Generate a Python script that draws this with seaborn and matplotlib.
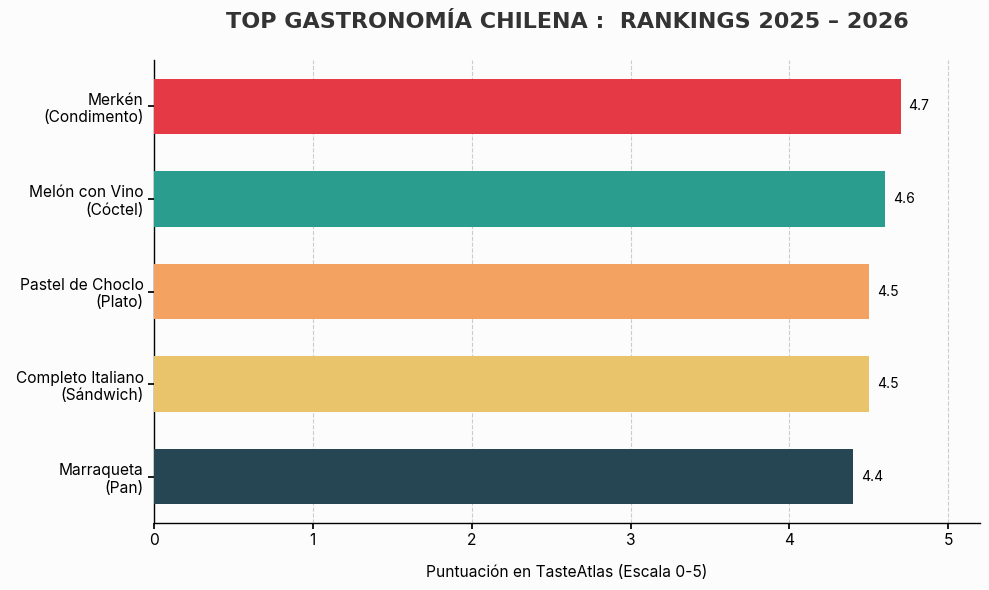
import matplotlib
matplotlib.use("Agg")
import matplotlib.pyplot as plt
import seaborn as sns
import pandas as pd

categories = ["Merkén\n(Condimento)", "Melón con Vino\n(Cóctel)", "Pastel de Choclo\n(Plato)",
              "Completo Italiano\n(Sándwich)", "Marraqueta\n(Pan)"]
scores = [4.7, 4.6, 4.5, 4.5, 4.4]
colors = ["#E63946", "#2A9D8F", "#F4A261", "#E9C46A", "#264653"]
xticks = [0, 1, 2, 3, 4, 5]

sns.set_theme(style="white")
plt.rcParams["font.family"] = ["Inter", "DejaVu Sans"]
plt.rcParams["text.color"] = "black"
plt.rcParams["xtick.color"] = "black"
plt.rcParams["ytick.color"] = "black"
plt.rcParams["axes.labelcolor"] = "black"

df = pd.DataFrame({"cat": categories, "score": scores})

fig = plt.figure(figsize=(9.89, 5.9), dpi=100, facecolor="#fcfcfc")
ax = fig.add_axes([154/989, 1-523/590, (980-154)/989, (523-60)/590])
ax.set_facecolor("#fcfcfc")
sns.barplot(data=df, x="score", y="cat", hue="cat", palette=colors, legend=False,
            width=0.6, ax=ax, saturation=1, zorder=3, linewidth=0)
ax.set_xlim(0, 5.2)
ax.set_ylim(4.5, -0.5)
ax.set_xticks(xticks)
ax.set_xticklabels([str(t) for t in xticks], fontsize=11.2)
ax.tick_params(axis="y", labelsize=11.2, length=4, color="black", left=True)
ax.tick_params(axis="x", length=4, color="black", bottom=True)
ax.set_ylabel("")
ax.set_xlabel("Puntuación en TasteAtlas (Escala 0-5)", fontsize=11.2, labelpad=12)
ax.grid(axis="x", linestyle="--", color="#cccccc", linewidth=0.8, zorder=0)
ax.set_axisbelow(True)
sns.despine(ax=ax)
for s in ["left", "bottom"]:
    ax.spines[s].set_color("black")
    ax.spines[s].set_linewidth(1)

for i, v in enumerate(scores):
    ax.text(v + 0.05, i, f"{v}", va="center", ha="left", fontsize=10, color="black")

fig.text(567/989, 1-22/590, "TOP GASTRONOMÍA CHILENA :  RANKINGS 2025 – 2026",
         ha="center", va="center", fontsize=16, fontweight="bold", color="#333333",
         family=["DejaVu Sans"])

fig.savefig("out.png", dpi=100, facecolor=fig.get_facecolor())
